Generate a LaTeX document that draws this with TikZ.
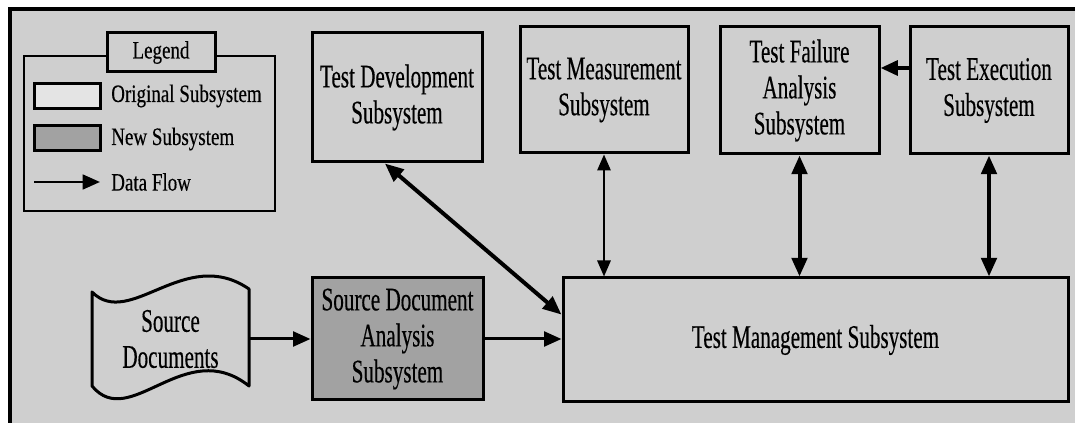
\documentclass[tikz,border=0pt]{standalone}
\usepackage{fontspec}
\setmainfont{Liberation Serif}[FakeStretch=0.64,FakeBold=0.3]
\newfontfamily\legendfamily{Liberation Serif}[FakeStretch=0.76,FakeBold=0.3]
\usetikzlibrary{arrows.meta,calc}

\definecolor{panelgray}{HTML}{CFCFCF}
\definecolor{newgray}{HTML}{A2A2A2}
\definecolor{origgray}{HTML}{E4E4E4}

\tikzset{
  sz/.style 2 args={minimum width=#1*0.75pt, minimum height=#2*0.75pt},
  boxfont/.style={font=\fontsize{24.75pt}{27pt}\selectfont},
  legfont/.style={font=\legendfamily\fontsize{18.75pt}{21pt}\selectfont},
  subsys/.style={draw=black, line width=2.25pt, fill=panelgray, align=center,
                 inner sep=0pt, boxfont},
  newsys/.style={subsys, fill=newgray},
  docbody/.style={draw=none, align=center, inner sep=0pt, boxfont},
  swatch/.style={draw=black, line width=2.25pt, inner sep=0pt},
  flow/.style={line width=2.25pt, -{Triangle[length=13pt,width=11pt]}},
  flowthick/.style={line width=3pt, -{Triangle[length=13pt,width=11pt]}},
  biflowthin/.style={line width=1.5pt,
     {Triangle[length=12pt,width=10pt]}-{Triangle[length=12pt,width=10pt]}},
  biflowthick/.style={line width=3pt,
     {Triangle[length=14pt,width=11.5pt]}-{Triangle[length=14pt,width=11.5pt]}},
}

\begin{document}
\begin{tikzpicture}[x=0.75pt,y=-0.75pt]
  \useasboundingbox (0,0) rectangle (1075,423);
  % panel with its frame on the left and top
  \fill[white] (0,0) rectangle (1075,423);
  \fill[panelgray] (10,9) rectangle (1075,423);
  \draw[line width=3pt] (10,423) -- (10,9) -- (1075,9);

  % legend
  \node[draw=black, line width=1.5pt, inner sep=0pt, sz={251}{155}] (legend) at (149.5,133.5) {};
  \node[draw=black, line width=2.25pt, fill=panelgray, inner sep=0pt, sz={108}{39}, legfont] (legendtitle) at (161,52.5) {Legend};
  \node[swatch, fill=origgray, sz={66}{25}] (sworig) at (67,96.5) {};
  \node[swatch, fill=newgray, sz={66}{25}] (swnew) at (67,138) {};
  \coordinate (legarrowa) at (34,182);
  \coordinate (legarrowb) at (100,182);
  \draw[line width=2pt, -{Triangle[length=13pt,width=11pt]}] (legarrowa) -- (legarrowb);
  \node[anchor=west, inner sep=0pt, legfont] (lborig) at (111,96) {Original Subsystem};
  \node[anchor=west, inner sep=0pt, legfont] (lbnew) at (111,139) {New Subsystem};
  \node[anchor=west, inner sep=0pt, legfont] (lbflow) at (111,182) {Data Flow};

  % subsystems
  \node[subsys, sz={170}{129}] (td) at (397,97.5) {Test Development\\Subsystem};
  \node[subsys, sz={168}{126}] (tmeas) at (604,90) {Test Measurement\\Subsystem};
  \node[subsys, sz={159}{127}] (tfa) at (799.5,90.5) {Test Failure\\Analysis\\Subsystem};
  \node[subsys, sz={158}{127}] (te) at (989,90.5) {Test Execution\\Subsystem};
  \node[newsys, sz={171}{122}] (sda) at (397.5,339) {Source Document\\Analysis\\Subsystem};
  \node[subsys, sz={505}{124}] (tm) at (815.5,340) {Test Management Subsystem};

  % source documents: wavy document symbol
  \draw[line width=2.25pt, fill=panelgray, line join=round]
    (92,292) .. controls (130,330) and (185,245) .. (249,289)
    -- (249,386) .. controls (185,335) and (130,432) .. (92,386) -- cycle;
  \node[docbody, sz={157}{110}] (sd) at (170.5,339) {Source\\Documents};

  % data flows
  \draw[biflowthin] (tmeas.south) -- (tmeas.south |- tm.north);
  \draw[biflowthick] (tfa.south) -- (tfa.south |- tm.north);
  \draw[biflowthick] (te.south) -- (te.south |- tm.north);
  \coordinate (feedlevel) at (0,68);
  \draw[flowthick] (te.west |- feedlevel) -- (tfa.east |- feedlevel);
  \draw[biflowthick] ($(td.south west)!0.43!(td.south east)$) -- ($(tm.north west)!0.3!(tm.south west)$);
  \draw[flow] (sd.east) -- (sda.west);
  \draw[flow] (sda.east) -- (sda.east -| tm.west);
\end{tikzpicture}
\end{document}
